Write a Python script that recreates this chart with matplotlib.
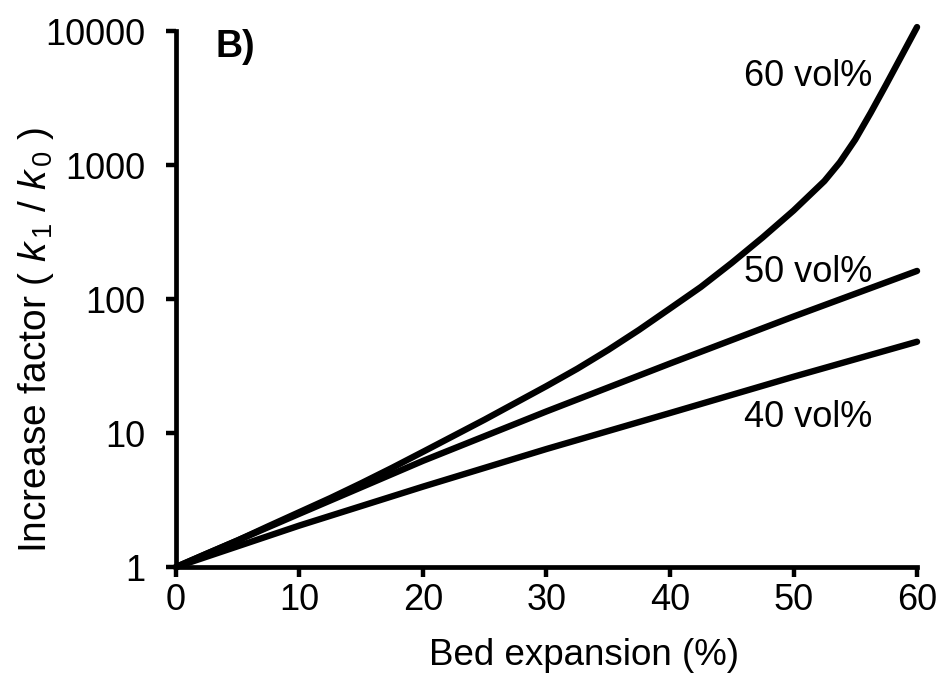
import matplotlib
matplotlib.use("Agg")
import matplotlib.pyplot as plt
import numpy as np

plt.rcParams['font.family'] = ['Liberation Sans', 'DejaVu Sans']
plt.rcParams['mathtext.fontset'] = 'custom'
plt.rcParams['mathtext.rm'] = 'Liberation Sans'
plt.rcParams['mathtext.it'] = 'Liberation Sans:italic'

# values
x40 = [0, 10, 20, 30, 40, 50, 60]
y40 = [1, 2.04, 3.98, 7.6, 14.1, 26.3, 48]

x50 = [0, 10, 20, 30, 40, 50, 60]
y50 = [1, 2.5, 6.2, 14.5, 33, 74, 162]

x60 = [0, 2.5, 5, 7.5, 10, 12.5, 15, 17.5, 20, 22.5, 25, 27.5, 30,
       32.5, 35, 37.5, 40, 42.5, 45, 47.5, 50, 52.5, 53.75, 55, 56.25, 57.5, 60]
y60 = [1, 1.26, 1.58, 2.02, 2.57, 3.27, 4.22, 5.5, 7.24, 9.55, 12.6, 16.8, 22.4,
       30.2, 41.7, 58.9, 85, 123, 186, 288, 457, 759, 1047, 1549, 2455, 3981, 10700]

labels = ['40 vol%', '50 vol%', '60 vol%']
xticks = [0, 10, 20, 30, 40, 50, 60]
yticks = [1, 10, 100, 1000, 10000]

fig = plt.figure(figsize=(9.45, 6.83), dpi=100)
ax = fig.add_axes([0.1862, 0.1698, 0.7842, 0.7848])

for xs, ys in [(x40, y40), (x50, y50), (x60, y60)]:
    ax.plot(xs, ys, color='black', lw=4.6, solid_capstyle='round',
            solid_joinstyle='round', clip_on=False)

ax.set_yscale('log')
ax.set_xlim(0, 60)
ax.set_ylim(1, 10000)
ax.set_xticks(xticks)
ax.set_xticklabels([str(t) for t in xticks])
ax.set_yticks(yticks)
ax.set_yticklabels([str(t) for t in yticks])
ax.yaxis.set_minor_locator(matplotlib.ticker.NullLocator())

for s in ['top', 'right']:
    ax.spines[s].set_visible(False)
for s in ['left', 'bottom']:
    ax.spines[s].set_linewidth(3.4)
ax.tick_params(axis='both', direction='out', length=7, width=3.2, labelsize=26)
ax.tick_params(axis='x', pad=4.5)
ax.tick_params(axis='y', pad=15)

ax.set_xlabel('Bed expansion (%)', fontsize=26.5)
ax.xaxis.set_label_coords(0.55, -0.133)
ax.set_ylabel('Increase factor ( $k_{\\,1}$ / $k_{\\,0}$ )', fontsize=28)
ax.yaxis.set_label_coords(-0.162, 0.424)

ax.text(0.053, 0.971, 'B)', transform=ax.transAxes, fontsize=27,
        fontweight='bold', va='center', ha='left')
ax.text(0.766, 0.915, labels[2], transform=ax.transAxes, fontsize=26, va='center', ha='left')
ax.text(0.766, 0.5495, labels[1], transform=ax.transAxes, fontsize=26, va='center', ha='left')
ax.text(0.766, 0.2785, labels[0], transform=ax.transAxes, fontsize=26, va='center', ha='left')

fig.savefig('out.png', dpi=100)
